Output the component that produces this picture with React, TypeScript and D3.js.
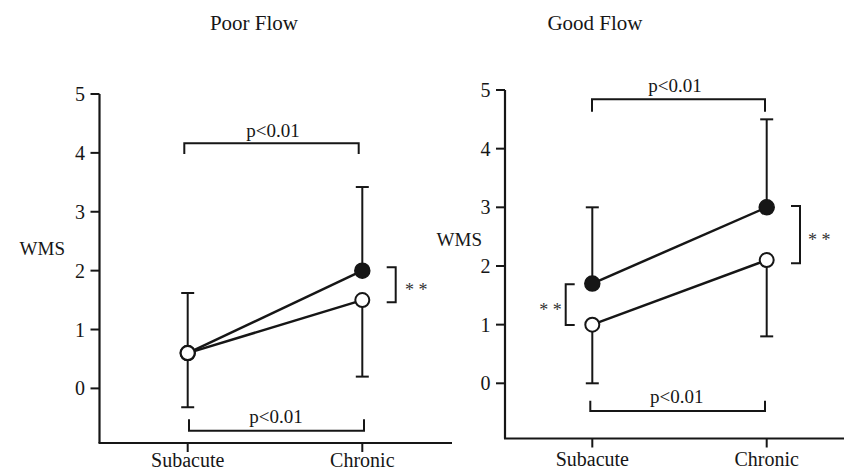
import React from "react";
import * as d3 from "d3";

const categories = ["Subacute", "Chronic"];
const yTicks = [0, 1, 2, 3, 4, 5];
const panelTitles = ["Poor Flow", "Good Flow"];
const yLabel = "WMS";
const pText = "p<0.01";
const sigText = "* *";

// Poor Flow
const poorFilled = [0.6, 2.0];
const poorFilledUpper = [1.62, 3.42];
const poorOpen = [0.6, 1.5];
const poorOpenLower = [-0.32, 0.2];
// Good Flow
const goodFilled = [1.7, 3.0];
const goodFilledUpper = [3.0, 4.5];
const goodOpen = [1.0, 2.1];
const goodOpenLower = [0.0, 0.8];

const FONT = "Liberation Serif";
const INK = "#161616";

type Sig = { x: number; y1: number; y2: number; dir: number; tx: number; anchor: string; cy: number };
type Layout = {
  axisX: number; axisY: number; axisEnd: number; y5: number; y0: number;
  xA: number; xB: number; titleX: number; wmsX: number; wmsY: number;
  top: { y: number; x1: number; x2: number; leg: number; tx: number; ty: number };
  bot: { y: number; x1: number; x2: number; leg: number; tx: number; ty: number };
  sigs: Sig[];
};

const layouts: Layout[] = [
  {
    axisX: 99.5, axisY: 443, axisEnd: 452, y5: 94, y0: 388.4,
    xA: 187.7, xB: 362.3, titleX: 254, wmsX: 65, wmsY: 255,
    top: { y: 143.3, x1: 184.3, x2: 358.7, leg: 10.7, tx: 273, ty: 137 },
    bot: { y: 430.7, x1: 189, x2: 364, leg: -11.4, tx: 276, ty: 423 },
    sigs: [{ x: 395.7, y1: 267.3, y2: 302.3, dir: -1, tx: 405, anchor: "start", cy: 287 }],
  },
  {
    axisX: 505, axisY: 438.5, axisEnd: 844, y5: 90, y0: 383.3,
    xA: 592.3, xB: 766.7, titleX: 595, wmsX: 482, wmsY: 246,
    top: { y: 99.3, x1: 592, x2: 765, leg: 12.4, tx: 675, ty: 91.7 },
    bot: { y: 411, x1: 590.3, x2: 765, leg: -10.3, tx: 676.7, ty: 403.3 },
    sigs: [
      { x: 565.7, y1: 284.3, y2: 325, dir: 1, tx: 561.7, anchor: "end", cy: 306.7 },
      { x: 800, y1: 206, y2: 263.3, dir: -1, tx: 808, anchor: "start", cy: 236.7 },
    ],
  },
];

const panelData = [
  { filled: poorFilled, filledUpper: poorFilledUpper, open: poorOpen, openLower: poorOpenLower },
  { filled: goodFilled, filledUpper: goodFilledUpper, open: goodOpen, openLower: goodOpenLower },
];

function Panel({ idx }: { idx: number }) {
  const L = layouts[idx];
  const D = panelData[idx];
  const x = d3.scalePoint<string>().domain(categories).range([L.xA, L.xB]);
  const y = d3.scaleLinear().domain([0, 5]).range([L.y0, L.y5]);
  const line = d3
    .line<number>()
    .x((_, i) => x(categories[i]) as number)
    .y((d) => y(d));
  const cap = 6.5;
  const r = 7.5;
  const ts = { fontFamily: FONT };
  return (
    <g>
      <text x={L.titleX} y={30} fontSize={21} textAnchor="middle" style={ts} fill={INK}>
        {panelTitles[idx]}
      </text>
      {/* axes */}
      <line x1={L.axisX} x2={L.axisX} y1={L.y5} y2={L.axisY} stroke={INK} strokeWidth={2.2} />
      <line x1={L.axisX - 1} x2={L.axisEnd} y1={L.axisY} y2={L.axisY} stroke={INK} strokeWidth={2.2} />
      {yTicks.map((t) => (
        <g key={t}>
          <line x1={L.axisX - 9} x2={L.axisX} y1={y(t)} y2={y(t)} stroke={INK} strokeWidth={2} />
          <text x={L.axisX - 14.5} y={y(t) + 7} fontSize={20} textAnchor="end" style={ts} fill={INK}>
            {t}
          </text>
        </g>
      ))}
      {categories.map((c) => (
        <g key={c}>
          <line x1={x(c)} x2={x(c)} y1={L.axisY} y2={L.axisY + 9} stroke={INK} strokeWidth={2} />
          <text x={x(c)} y={Math.min(L.axisY + 27, 467)} fontSize={20} textAnchor="middle" style={ts} fill={INK}>
            {c}
          </text>
        </g>
      ))}
      <text x={L.wmsX} y={L.wmsY} fontSize={19} textAnchor="end" style={ts} fill={INK}>
        {yLabel}
      </text>
      {/* error bars */}
      {categories.map((c, i) => (
        <g key={"e" + c} stroke={INK} strokeWidth={2}>
          <line x1={x(c)} x2={x(c)} y1={y(D.filled[i])} y2={y(D.filledUpper[i])} />
          <line x1={(x(c) as number) - cap} x2={(x(c) as number) + cap} y1={y(D.filledUpper[i])} y2={y(D.filledUpper[i])} />
          <line x1={x(c)} x2={x(c)} y1={y(D.open[i])} y2={y(D.openLower[i])} />
          <line x1={(x(c) as number) - cap} x2={(x(c) as number) + cap} y1={y(D.openLower[i])} y2={y(D.openLower[i])} />
        </g>
      ))}
      {/* lines */}
      <path d={line(D.filled) || ""} fill="none" stroke={INK} strokeWidth={2.5} />
      <path d={line(D.open) || ""} fill="none" stroke={INK} strokeWidth={2.5} />
      {/* markers */}
      {categories.map((c, i) => (
        <circle key={"f" + c} cx={x(c)} cy={y(D.filled[i])} r={r} fill={INK} stroke={INK} strokeWidth={1.5} />
      ))}
      {categories.map((c, i) => (
        <circle key={"o" + c} cx={x(c)} cy={y(D.open[i])} r={r - 0.5} fill="#fff" stroke={INK} strokeWidth={2} />
      ))}
      {/* p brackets */}
      {[L.top, L.bot].map((b, k) => (
        <g key={"b" + k}>
          <path
            d={`M${b.x1},${b.y + b.leg}V${b.y}H${b.x2}V${b.y + b.leg}`}
            fill="none"
            stroke={INK}
            strokeWidth={2}
          />
          <text x={b.tx} y={b.ty} fontSize={19} textAnchor="middle" style={ts} fill={INK}>
            {pText}
          </text>
        </g>
      ))}
      {/* significance brackets */}
      {L.sigs.map((s, k) => (
        <g key={"s" + k}>
          <path
            d={`M${s.x + s.dir * 9},${s.y1}H${s.x}V${s.y2}H${s.x + s.dir * 9}`}
            fill="none"
            stroke={INK}
            strokeWidth={2}
          />
          <text x={s.tx} y={s.cy + 9} fontSize={18} textAnchor={s.anchor} style={ts} fill="#333">
            {sigText}
          </text>
        </g>
      ))}
    </g>
  );
}

export default function App() {
  return (
    <svg
      width={844}
      height={472}
      viewBox="0 0 844 472"
      style={{ position: "absolute", left: 0, top: 0, background: "#fff" }}
    >
      <rect width={844} height={472} fill="#fff" />
      <Panel idx={0} />
      <Panel idx={1} />
    </svg>
  );
}
